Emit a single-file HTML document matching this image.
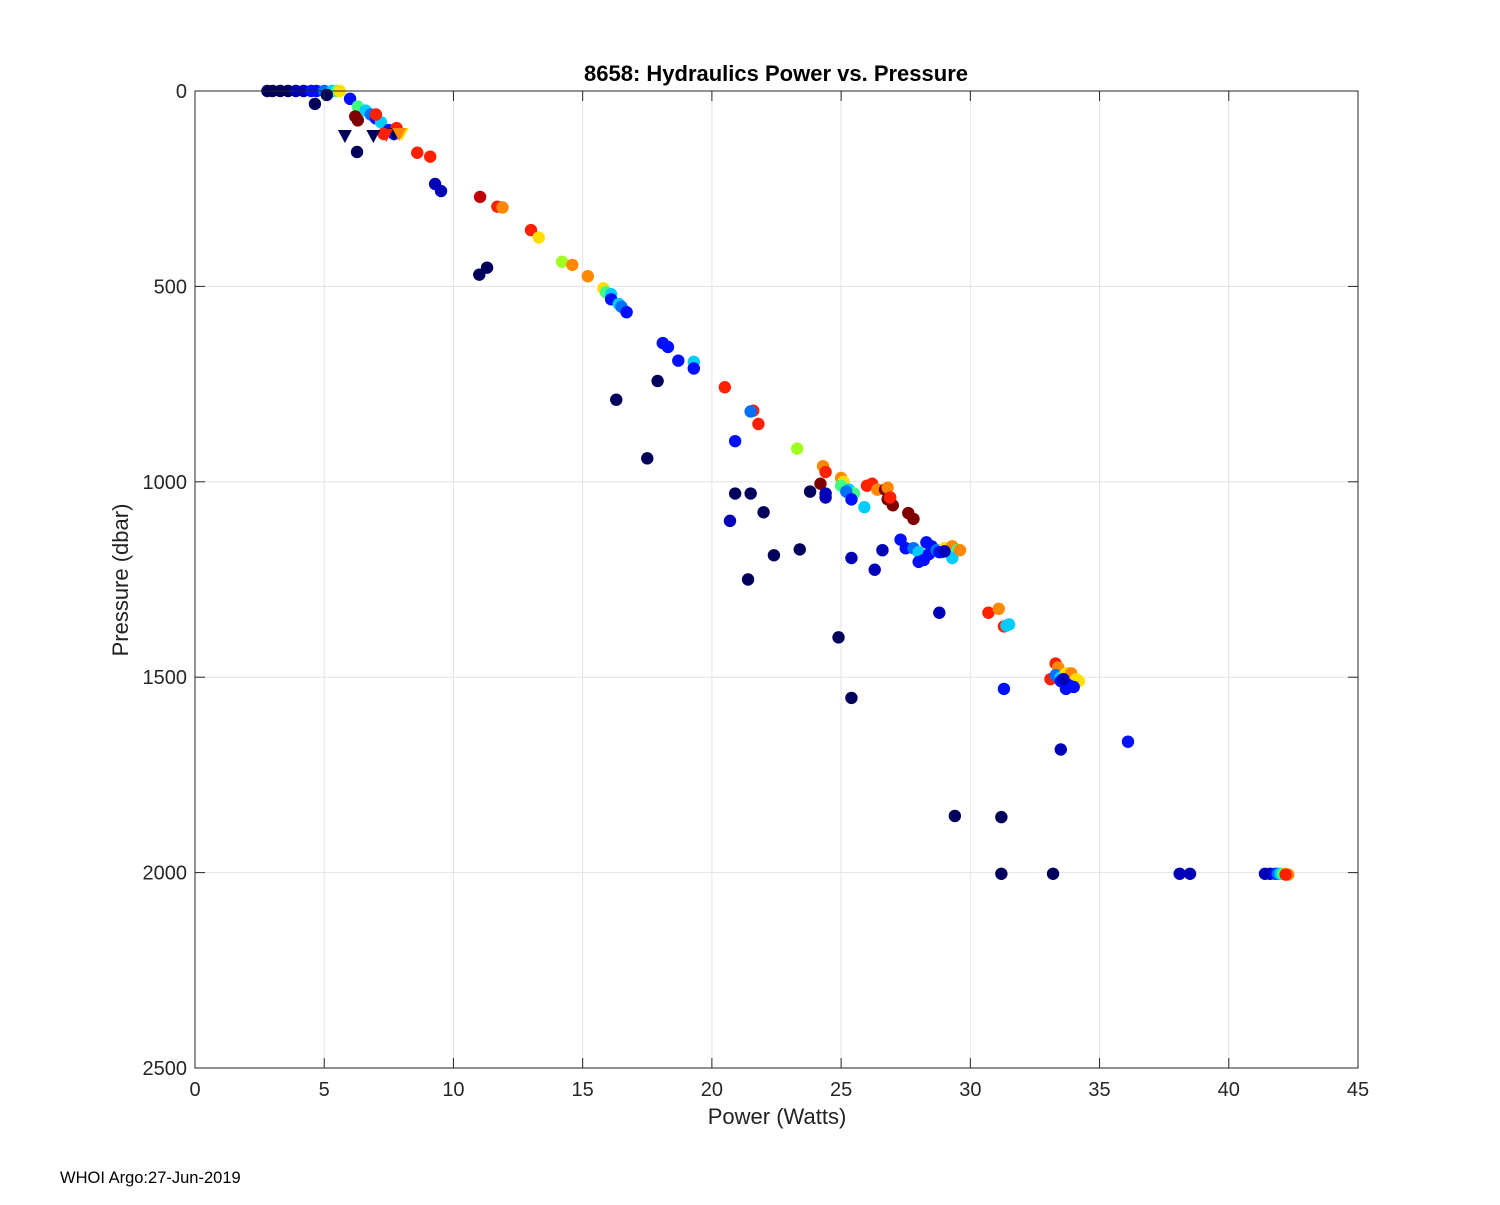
<!DOCTYPE html>
<html><head><meta charset="utf-8"><style>
body{margin:0;background:#fff;font-family:"Liberation Sans",Arial,sans-serif}
svg text{font-family:"Liberation Sans",Arial,sans-serif}
</style></head><body>
<svg id="chart" width="1500" height="1200" xmlns="http://www.w3.org/2000/svg">
<rect width="1500" height="1200" fill="#fff"/>
<g id="grid"></g><g id="marks"></g><g id="axes"></g>
<text x="776" y="81" text-anchor="middle" font-size="22" font-weight="bold" fill="#000">8658: Hydraulics Power vs. Pressure</text>
<text x="777" y="1124" text-anchor="middle" font-size="22" fill="#222">Power (Watts)</text>
<text transform="translate(128,580) rotate(-90)" text-anchor="middle" font-size="22" fill="#222">Pressure (dbar)</text>
<text x="60" y="1183" font-size="16.5" fill="#000">WHOI Argo:27-Jun-2019</text>
</svg>
<script>
const xTicks=[0,5,10,15,20,25,30,35,40,45];
const yTicks=[0,500,1000,1500,2000,2500];
const colors={n:"#00005c",b:"#0000b8",B:"#0010ff",l:"#0070ff",c:"#00ccff",g:"#40ff80",G:"#a0ff20",y:"#ffdd00",o:"#ff8800",r:"#ff2000",d:"#c00000",m:"#800000"};
const dotX=[2.8,3.0,3.3,3.6,3.9,4.2,4.5,4.7,5.0,5.3,5.5,5.6,4.64,5.1,6.0,6.3,6.6,6.8,7.0,7.2,7.5,7.7,7.8,7.0,6.2,6.3,7.3,6.27,8.6,9.1,9.29,9.52,11.03,11.7,11.9,13.0,13.3,14.2,14.6,15.2,15.8,15.9,16.1,16.1,16.4,16.5,16.7,11.0,11.3,18.1,18.3,18.7,19.3,19.3,17.9,16.3,17.5,20.5,21.6,21.5,21.8,20.9,23.3,24.3,24.2,24.4,25.0,25.1,25.0,25.3,25.5,25.2,25.4,25.9,26.0,26.2,26.4,26.7,26.8,26.8,27.0,26.9,27.6,27.8,20.9,21.5,20.7,22.0,22.4,23.4,21.4,23.8,24.4,24.4,25.4,26.3,26.6,27.3,27.5,27.8,28.0,28.0,28.2,28.3,28.5,28.4,28.7,28.9,29.0,29.2,29.3,29.5,29.3,29.6,28.8,29.0,28.8,24.9,25.4,30.7,31.1,31.3,31.4,31.5,31.3,33.3,33.4,33.1,33.3,33.5,33.7,33.9,34.1,34.2,33.5,33.8,34.0,33.7,33.6,33.5,36.1,29.4,31.2,31.2,33.2,38.1,38.5,41.4,41.6,41.8,41.9,42.0,42.1,42.2,42.3,42.2];
const dotP=[0,0,0,0,0,0,0,0,0,0,0,0,33,10,20,40,50,60,70,80,100,110,95,60,65,75,110,156,158,168,238,256,271,296,298,356,375,437,445,474,505,515,520,533,545,552,566,470,452,645,655,690,693,710,742,790,940,758,818,820,852,896,915,960,1005,975,990,1000,1010,1020,1030,1025,1045,1065,1010,1005,1020,1020,1015,1045,1060,1040,1080,1095,1030,1030,1100,1078,1188,1173,1250,1025,1030,1040,1195,1225,1175,1148,1170,1170,1180,1205,1200,1155,1165,1185,1175,1180,1170,1175,1165,1175,1195,1175,1180,1178,1335,1398,1553,1335,1325,1370,1368,1365,1530,1465,1475,1505,1495,1500,1490,1490,1505,1510,1510,1520,1525,1530,1505,1685,1665,1855,1858,2003,2003,2003,2003,2003,2003,2003,2003,2003,2003,2003,2005,2005];
const dotC=["n","n","n","n","b","b","B","B","l","c","g","y","n","n",
"B","g","c","l","B","c","B","B","r","r","m","m","r","n","r","r","b","b","d","r","o","r","y","G","o","o",
"y","g","c","B","c","l","B","n","n","B","B","B","c","B","n","n","n","r","r","l","r","B","G","o","m","r",
"o","y","g","c","g","l","B","c","r","r","o","m","o","m","m","r","m","m",
"n","n","b","n","n","n","n","n","b","b","b","b","b",
"B","B","l","c","B","B","B","B","B","l","l","y","o","o","g","c","o","B","b",
"b","n","n","r","o","r","c","c","B",
"r","o","r","l","c","y","o","y","y","B","B","B","B","b",
"b","B","n","n","n","n","b","b","b","b","B","l","c","g","y","o","r"];
const triX=[5.8,6.9,7.7,8.0,7.9,7.4];
const triP=[115,115,110,110,110,112];
const triC=["n","n","n","y","o","r"];
const X0=195,X1=1358,Y0=91,Y1=1068;
const sx=v=>X0+(v-0)/(45-0)*(X1-X0);
const sy=v=>Y0+(v-0)/(2500-0)*(Y1-Y0);
const NS="http://www.w3.org/2000/svg";
function mk(t,a,parent){const e=document.createElementNS(NS,t);for(const k in a)e.setAttribute(k,a[k]);parent.appendChild(e);return e;}
const grid=document.getElementById('grid'),marks=document.getElementById('marks'),axes=document.getElementById('axes');
xTicks.forEach(t=>{
 const x=sx(t);
 const gl=mk('line',{x1:x,x2:x,y1:Y0,y2:Y1,stroke:'#e3e3e3','stroke-width':1},grid);
 
 
 mk('line',{x1:x,x2:x,y1:Y1,y2:Y1-10,stroke:'#262626'},axes);
 mk('line',{x1:x,x2:x,y1:Y0,y2:Y0+10,stroke:'#262626'},axes);
 const tx=mk('text',{x:x,y:Y1+28,'text-anchor':'middle','font-size':20,fill:'#262626'},axes);
 tx.textContent=t;
 
 
});
yTicks.forEach(t=>{
 const y=sy(t);
 const gl=mk('line',{x1:X0,x2:X1,y1:y,y2:y,stroke:'#e3e3e3','stroke-width':1},grid);
 
 
 mk('line',{x1:X0,x2:X0+10,y1:y,y2:y,stroke:'#262626'},axes);
 mk('line',{x1:X1,x2:X1-10,y1:y,y2:y,stroke:'#262626'},axes);
 const tx=mk('text',{x:X0-8,y:y+7,'text-anchor':'end','font-size':20,fill:'#262626'},axes);
 tx.textContent=t;
 
 
});
const box=mk('rect',{x:X0,y:Y0,width:X1-X0,height:Y1-Y0,fill:'none',stroke:'#262626','stroke-width':1},axes);


dotX.forEach((v,i)=>{
 const c=mk('circle',{cx:sx(v),cy:sy(dotP[i]),r:6.2,fill:colors[dotC[i]]||'#0010ff'},marks);
 
 
});
triX.forEach((v,i)=>{
 const x=sx(v),y=sy(triP[i]);
 const p=mk('polygon',{points:`${x-7},${y-6} ${x+7},${y-6} ${x},${y+7}`,fill:colors[triC[i]]},marks);
 
 
});
</script>
</body></html>
